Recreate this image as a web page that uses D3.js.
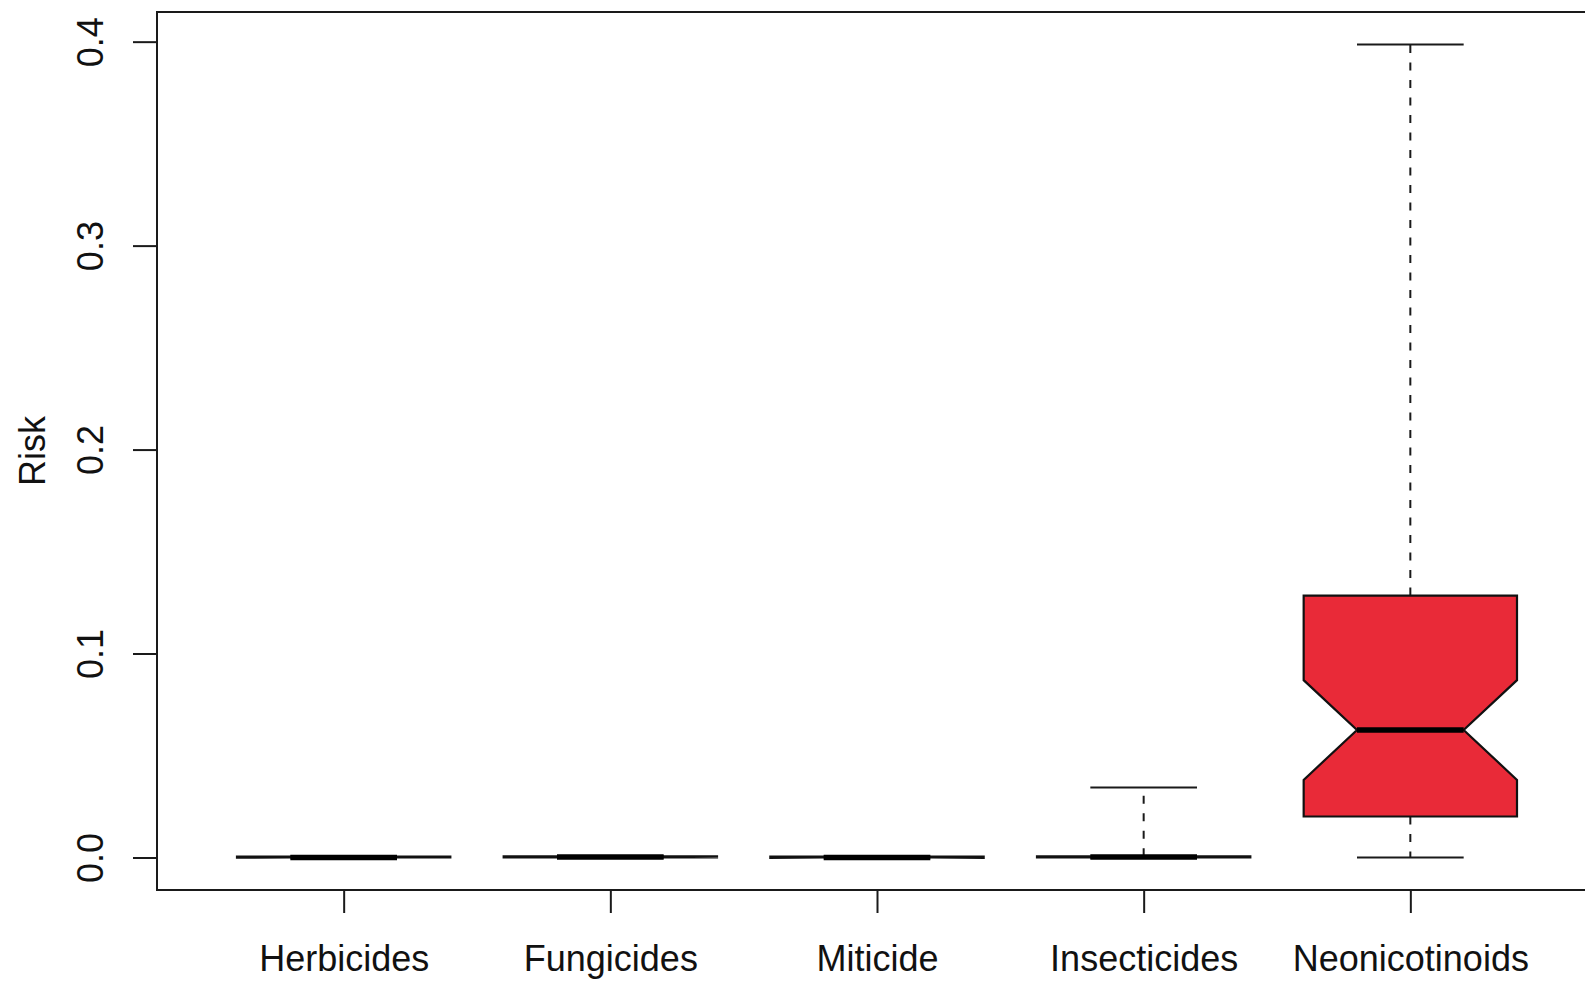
<!DOCTYPE html>
<html>
<head>
<meta charset="utf-8">
<script src="https://cdn.jsdelivr.net/npm/d3@7"></script>
<style>
  html, body { margin: 0; padding: 0; background: #fff; }
  svg { display: block; font-family: "Liberation Sans", Arial, Helvetica, sans-serif; }
</style>
</head>
<body>
<svg id="chart" width="1585" height="982"></svg>
<script>
// Pesticide classes and their five-number summaries (risk)
const categories = ["Herbicides", "Fungicides", "Miticide", "Insecticides", "Neonicotinoids"];
const whiskerLow  = [0.0000, 0.0000, 0.0000, 0.0000, 0.0000];
const q1          = [0.0000, 0.0000, 0.0000, 0.0000, 0.0201];
const medians     = [0.0000, 0.0002, 0.0000, 0.0002, 0.0625];
const q3          = [0.0004, 0.0006, 0.0004, 0.0006, 0.1284];
const whiskerHigh = [0.0004, 0.0006, 0.0004, 0.0343, 0.3986];
const counts      = [40, 40, 12, 40, 49];
const fills       = ["#ffffff", "#ffffff", "#ffffff", "#ffffff", "#e92a38"];
const yTicks      = [0, 0.1, 0.2, 0.3, 0.4];
const yLabel      = "Risk";

const svg = d3.select("#chart");
const plot = { left: 157, right: 1597, top: 12, bottom: 890 };

// y range: data range padded by 4% on each side
const yMin = d3.min(whiskerLow), yMax = d3.max(whiskerHigh);
const pad = (yMax - yMin) * 0.04;
const y = d3.scaleLinear().domain([yMin - pad, yMax + pad]).range([plot.bottom, plot.top]);

// x range: groups at 1..n, limits 0.5..n+0.5 padded by 4%
const n = categories.length;
const xPad = n * 0.04;
const x = d3.scaleLinear().domain([0.5 - xPad, n + 0.5 + xPad]).range([plot.left, plot.right]);
const boxWex = 0.8;

const data = categories.map((c, i) => {
  const iqr = q3[i] - q1[i];
  const notch = 1.58 * iqr / Math.sqrt(counts[i]);
  return { c, i: i + 1, lo: whiskerLow[i], q1: q1[i], med: medians[i], q3: q3[i], hi: whiskerHigh[i],
           nLo: medians[i] - notch, nHi: medians[i] + notch, fill: fills[i] };
});

const g = svg.append("g");
const ink = "#1a1a1a";

data.forEach(d => {
  const cx = x(d.i);
  const hw = (x(d.i + boxWex / 2) - x(d.i));   // half box width
  const qw = hw / 2;                           // half notch / staple width

  // whiskers (dashed)
  g.append("line").attr("x1", cx).attr("x2", cx).attr("y1", y(d.q3)).attr("y2", y(d.hi))
    .attr("stroke", ink).attr("stroke-width", 2).attr("stroke-dasharray", "8,9.5");
  g.append("line").attr("x1", cx).attr("x2", cx).attr("y1", y(d.q1)).attr("y2", y(d.lo))
    .attr("stroke", ink).attr("stroke-width", 2).attr("stroke-dasharray", "8,9.5");
  // staples
  g.append("line").attr("x1", cx - qw).attr("x2", cx + qw).attr("y1", y(d.hi)).attr("y2", y(d.hi))
    .attr("stroke", ink).attr("stroke-width", 2);
  g.append("line").attr("x1", cx - qw).attr("x2", cx + qw).attr("y1", y(d.lo)).attr("y2", y(d.lo))
    .attr("stroke", ink).attr("stroke-width", 2);

  // notched box
  const pts = [
    [cx - hw, y(d.q3)], [cx + hw, y(d.q3)], [cx + hw, y(d.nHi)], [cx + qw, y(d.med)],
    [cx + hw, y(d.nLo)], [cx + hw, y(d.q1)], [cx - hw, y(d.q1)], [cx - hw, y(d.nLo)],
    [cx - qw, y(d.med)], [cx - hw, y(d.nHi)]
  ];
  g.append("path").attr("d", d3.line()(pts) + "Z")
    .attr("fill", d.fill).attr("stroke", "#111").attr("stroke-width", 2.2)
    .attr("stroke-linejoin", "miter");

  // median
  g.append("line").attr("x1", cx - qw).attr("x2", cx + qw).attr("y1", y(d.med)).attr("y2", y(d.med))
    .attr("stroke", "#000").attr("stroke-width", 5.5);
});

// frame
svg.append("rect").attr("x", plot.left).attr("y", plot.top)
  .attr("width", plot.right - plot.left).attr("height", plot.bottom - plot.top)
  .attr("fill", "none").attr("stroke", ink).attr("stroke-width", 2);

// y axis
const yAxis = svg.append("g").attr("transform", `translate(${plot.left},0)`)
  .call(d3.axisLeft(y).tickValues(yTicks).tickSize(24).tickFormat(d3.format(".1f")));
yAxis.select(".domain").remove();
yAxis.selectAll(".tick line").attr("stroke", ink).attr("stroke-width", 2);
yAxis.selectAll(".tick text")
  .attr("font-size", 36).attr("fill", "#111")
  .attr("x", 0).attr("dy", 0)
  .attr("text-anchor", "middle")
  .attr("transform", "translate(-54,0) rotate(-90)");

// x axis
const xAxis = svg.append("g").attr("transform", `translate(0,${plot.bottom})`)
  .call(d3.axisBottom(x).tickValues(data.map(d => d.i)).tickSize(23).tickFormat(v => categories[v - 1]));
xAxis.select(".domain").remove();
xAxis.selectAll(".tick line").attr("stroke", ink).attr("stroke-width", 2);
xAxis.selectAll(".tick text")
  .attr("font-size", 36).attr("fill", "#111")
  .attr("y", 80.5).attr("dy", 0);

// y label
svg.append("text")
  .attr("transform", `translate(45,${(plot.top + plot.bottom) / 2}) rotate(-90)`)
  .attr("text-anchor", "middle").attr("font-size", 36).attr("fill", "#111")
  .text(yLabel);
</script>
</body>
</html>
